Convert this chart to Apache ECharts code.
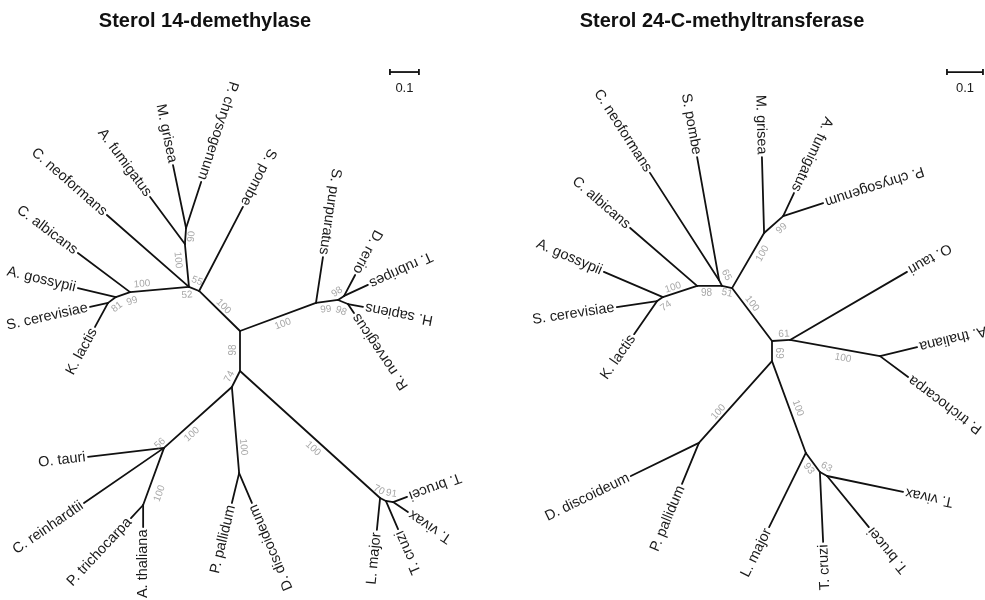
<!DOCTYPE html>
<html>
<head>
<meta charset="utf-8">
<title>Sterol biosynthesis enzyme phylogenies</title>
<script src="https://cdn.jsdelivr.net/npm/echarts@6/dist/echarts.min.js"></script>
<style>
  html, body { margin: 0; padding: 0; background: #ffffff; }
  #chart { width: 985px; height: 600px; }
</style>
</head>
<body>
<div id="chart"></div>
<script>
// ---------------------------------------------------------------------------
// Unrooted trees. Node positions are in substitutions per site, measured from
// each tree's central node (x to the right, y upwards).
// ---------------------------------------------------------------------------

// Sterol 14-demethylase
const cyp51Internal = [
  ['c0', 0.000, 0.000], ['d', 0.000, -0.138], ['b', -0.141, 0.138],
  ['a', -0.176, 0.152], ['i', -0.190, 0.300], ['j', -0.186, 0.355],
  ['k', -0.379, 0.134], ['l', -0.428, 0.117], ['m', -0.455, 0.097],
  ['e', 0.262, 0.097], ['f', 0.338, 0.107], ['g', 0.359, 0.121],
  ['h', 0.372, 0.093], ['p', -0.028, -0.193], ['n', -0.262, -0.403],
  ['q', -0.003, -0.490], ['s', -0.334, -0.600], ['r', 0.483, -0.576],
  ['t', 0.503, -0.586], ['u', 0.528, -0.590]
];
const cyp51Edges = [
  ['c0', 'd'], ['c0', 'b'], ['c0', 'e'], ['b', 'a'], ['a', 'i'], ['a', 'k'],
  ['i', 'j'], ['k', 'l'], ['l', 'm'], ['e', 'f'], ['f', 'g'], ['f', 'h'],
  ['d', 'p'], ['d', 'r'], ['p', 'n'], ['p', 'q'], ['n', 's'], ['r', 't'],
  ['t', 'u']
];
const cyp51Tips = [
  ['C. neoformans', 'a', -0.459, 0.400],
  ['A. fumigatus', 'i', -0.310, 0.462],
  ['M. grisea', 'j', -0.231, 0.572],
  ['P. chrysogenum', 'j', -0.134, 0.514],
  ['S. pombe', 'b', 0.010, 0.428],
  ['C. albicans', 'k', -0.559, 0.269],
  ['A. gossypii', 'l', -0.559, 0.148],
  ['S. cerevisiae', 'm', -0.517, 0.083],
  ['K. lactis', 'm', -0.500, 0.014],
  ['S. purpuratus', 'e', 0.286, 0.255],
  ['D. rerio', 'g', 0.397, 0.193],
  ['T. rubripes', 'g', 0.441, 0.159],
  ['H. sapiens', 'h', 0.424, 0.083],
  ['R. norvegicus', 'h', 0.393, 0.062],
  ['O. tauri', 'n', -0.524, -0.434],
  ['C. reinhardtii', 'n', -0.538, -0.593],
  ['P. trichocarpa', 's', -0.376, -0.645],
  ['A. thaliana', 's', -0.334, -0.676],
  ['P. pallidum', 'q', -0.028, -0.593],
  ['D. discoideum', 'q', 0.041, -0.593],
  ['L. major', 'r', 0.472, -0.686],
  ['T. cruzi', 't', 0.545, -0.683],
  ['T. brucei', 'u', 0.576, -0.572],
  ['T. vivax', 'u', 0.579, -0.624]
];
// bootstrap support: branch (from, to) and value
const cyp51Support = [
  ['c0', 'b', 100], ['b', 'a', 55], ['a', 'k', 100], ['a', 'k', 52],
  ['k', 'l', 99], ['l', 'm', 81], ['a', 'i', 100], ['i', 'j', 90],
  ['c0', 'd', 98], ['d', 'p', 74], ['p', 'n', 100], ['p', 'n', 56],
  ['n', 's', 100], ['p', 'q', 100], ['d', 'r', 100], ['r', 't', 70],
  ['t', 'u', 91], ['c0', 'e', 100], ['e', 'f', 99], ['f', 'g', 98],
  ['f', 'h', 98]
];

// Sterol 24-C-methyltransferase
const smtInternal = [
  ['c0', 0.000, 0.000], ['a', -0.111, 0.147], ['b', -0.139, 0.153],
  ['b2', -0.147, 0.169], ['k', -0.208, 0.153], ['l', -0.303, 0.122],
  ['m', -0.319, 0.111], ['i', -0.022, 0.300], ['j', 0.031, 0.347],
  ['g', 0.050, 0.003], ['s', 0.300, -0.042], ['h', 0.000, -0.056],
  ['q', -0.203, -0.283], ['r', 0.094, -0.311], ['t', 0.133, -0.364],
  ['u', 0.153, -0.375]
];
const smtEdges = [
  ['c0', 'a'], ['c0', 'g'], ['c0', 'h'], ['a', 'b'], ['a', 'i'], ['b', 'b2'],
  ['b', 'k'], ['k', 'l'], ['l', 'm'], ['i', 'j'], ['g', 's'], ['h', 'q'],
  ['h', 'r'], ['r', 't'], ['t', 'u']
];
const smtTips = [
  ['C. neoformans', 'b2', -0.339, 0.467],
  ['S. pombe', 'b2', -0.208, 0.511],
  ['C. albicans', 'k', -0.394, 0.314],
  ['A. gossypii', 'l', -0.467, 0.192],
  ['S. cerevisiae', 'm', -0.431, 0.094],
  ['K. lactis', 'm', -0.383, 0.019],
  ['M. grisea', 'i', -0.028, 0.511],
  ['A. fumigatus', 'j', 0.061, 0.411],
  ['P. chrysogenum', 'j', 0.142, 0.383],
  ['O. tauri', 'g', 0.375, 0.192],
  ['A. thaliana', 's', 0.403, -0.017],
  ['P. trichocarpa', 's', 0.378, -0.100],
  ['D. discoideum', 'q', -0.392, -0.375],
  ['P. pallidum', 'q', -0.250, -0.397],
  ['L. major', 'r', -0.008, -0.517],
  ['T. cruzi', 't', 0.142, -0.558],
  ['T. vivax', 'u', 0.364, -0.419],
  ['T. brucei', 'u', 0.269, -0.517]
];
const smtSupport = [
  ['a', 'i', 100], ['i', 'j', 99], ['a', 'c0', 100], ['b', 'b2', 65],
  ['b', 'a', 51], ['k', 'b', 98], ['l', 'k', 100], ['l', 'm', 74],
  ['c0', 'g', 61], ['c0', 'h', 69], ['g', 's', 100], ['h', 'r', 100],
  ['r', 't', 93], ['t', 'u', 63], ['h', 'q', 100]
];

const scaleBarLength = 0.1;

// ---------------------------------------------------------------------------
// Layout and style
// ---------------------------------------------------------------------------
const FONT = '"Liberation Sans", Arial, Helvetica, sans-serif';
const LINE = '#111111';
const LINE_W = 1.8;
const TIP_GAP = 2.5;

// support label nudges (px) from the branch midpoint, same order as the support lists
const cyp51SupportNudge = [
  [4, -4.5], [3, -8], [-17.5, -5.5], [27.5, 5.5], [9, 6.5], [5, 7], [-9, -5.5],
  [6, 0.5], [-7, -1], [-6.5, -2.5], [-6, 17], [-38, 26], [6, 17], [8, 17],
  [3, 14], [-4, -9.5], [2, -8], [5, 7], [-1, 8], [-4, -6], [-2, 9]
];
const smtSupportNudge = [
  [14.5, -7], [8, 4], [0, -11], [6, -8], [0, 6], [-3, 7], [-7, -4], [6, 7],
  [3, -6.5], [9, 2], [8, 10], [9, 1], [-4, 6], [3, -7], [-17, 10]
];

const panels = [
  {
    title: 'Sterol 14-demethylase', titleX: 205,
    internal: cyp51Internal, edges: cyp51Edges, tips: cyp51Tips,
    support: cyp51Support, nudge: cyp51SupportNudge,
    box: { left: 0, width: 490 }, centre: [240, 331], pxPerUnit: 290,
    bar: [0.517, 0.893]
  },
  {
    title: 'Sterol 24-C-methyltransferase', titleX: 722,
    internal: smtInternal, edges: smtEdges, tips: smtTips,
    support: smtSupport, nudge: smtSupportNudge,
    box: { left: 490, width: 495 }, centre: [772, 341], pxPerUnit: 360,
    bar: [0.486, 0.747]
  }
];
const H = 600;

// ---------------------------------------------------------------------------
function lineRender(params, api) {
  const p = api.coord([api.value(0), api.value(1)]);
  const c = api.coord([api.value(2), api.value(3)]);
  return {
    type: 'line',
    shape: { x1: p[0], y1: p[1], x2: c[0], y2: c[1] },
    style: { stroke: LINE, lineWidth: LINE_W, lineCap: 'round' }
  };
}

function tipRender(names) {
  return function (params, api) {
    const tip = api.coord([api.value(0), api.value(1)]);
    const par = api.coord([api.value(2), api.value(3)]);
    const dx = tip[0] - par[0], dy = tip[1] - par[1];
    const len = Math.hypot(dx, dy) || 1;
    const theta = Math.atan2(-dy, dx);
    return {
      type: 'text',
      x: tip[0] + dx / len * TIP_GAP,
      y: tip[1] + dy / len * TIP_GAP,
      rotation: theta + Math.PI,
      style: {
        text: names[params.dataIndex], fill: '#1a1a1a',
        font: '14.5px ' + FONT,
        align: 'right', verticalAlign: 'middle',
        textAlign: 'right', textVerticalAlign: 'middle'
      }
    };
  };
}

function supportRender(values, nudge) {
  return function (params, api) {
    const a = api.coord([api.value(0), api.value(1)]);
    const b = api.coord([api.value(2), api.value(3)]);
    let theta = Math.atan2(-(b[1] - a[1]), b[0] - a[0]);
    if (theta > Math.PI / 2 + 1e-9) theta -= Math.PI;
    if (theta <= -Math.PI / 2 + 1e-9) theta += Math.PI;
    const off = nudge[params.dataIndex] || [0, 0];
    return {
      type: 'text',
      x: (a[0] + b[0]) / 2 + off[0],
      y: (a[1] + b[1]) / 2 + off[1],
      rotation: theta,
      style: {
        text: String(values[params.dataIndex]), fill: '#a8a8a8',
        font: '10px ' + FONT,
        align: 'center', verticalAlign: 'middle',
        textAlign: 'center', textVerticalAlign: 'middle'
      }
    };
  };
}

function barRender(params, api) {
  const s = api.coord([api.value(0), api.value(1)]);
  const e = api.coord([api.value(2), api.value(3)]);
  const st = { stroke: LINE, lineWidth: LINE_W };
  return {
    type: 'group',
    children: [
      { type: 'line', shape: { x1: s[0], y1: s[1], x2: e[0], y2: e[1] }, style: st },
      { type: 'line', shape: { x1: s[0], y1: s[1] - 3, x2: s[0], y2: s[1] + 3 }, style: st },
      { type: 'line', shape: { x1: e[0], y1: e[1] - 3, x2: e[0], y2: e[1] + 3 }, style: st },
      {
        type: 'text', x: (s[0] + e[0]) / 2, y: s[1] + 10,
        style: {
          text: String(scaleBarLength), fill: '#1a1a1a', font: '13px ' + FONT,
          align: 'center', verticalAlign: 'top',
          textAlign: 'center', textVerticalAlign: 'top'
        }
      }
    ]
  };
}

const grids = [], xAxes = [], yAxes = [], series = [], titles = [];

panels.forEach(function (pn, idx) {
  const pos = {};
  pn.internal.forEach(function (n) { pos[n[0]] = [n[1], n[2]]; });

  const k = pn.pxPerUnit;
  grids.push({ left: pn.box.left, width: pn.box.width, top: 0, height: H, containLabel: false });
  xAxes.push({
    type: 'value', gridIndex: idx, show: false,
    min: -(pn.centre[0] - pn.box.left) / k,
    max: (pn.box.left + pn.box.width - pn.centre[0]) / k
  });
  yAxes.push({
    type: 'value', gridIndex: idx, show: false,
    min: -(H - pn.centre[1]) / k,
    max: pn.centre[1] / k
  });

  const branchData = pn.edges.map(function (e) {
    return [pos[e[0]][0], pos[e[0]][1], pos[e[1]][0], pos[e[1]][1]];
  }).concat(pn.tips.map(function (t) {
    return [pos[t[1]][0], pos[t[1]][1], t[2], t[3]];
  }));

  const common = {
    type: 'custom', xAxisIndex: idx, yAxisIndex: idx, silent: true,
    clip: false, animation: false, encode: { x: [0, 2], y: [1, 3] }
  };

  series.push(Object.assign({}, common, {
    name: pn.title + ' branches', z: 2,
    data: branchData, renderItem: lineRender
  }));
  series.push(Object.assign({}, common, {
    name: pn.title + ' taxa', z: 3,
    data: pn.tips.map(function (t) { return [t[2], t[3], pos[t[1]][0], pos[t[1]][1]]; }),
    renderItem: tipRender(pn.tips.map(function (t) { return t[0]; }))
  }));
  series.push(Object.assign({}, common, {
    name: pn.title + ' support', z: 3,
    data: pn.support.map(function (s) {
      return [pos[s[0]][0], pos[s[0]][1], pos[s[1]][0], pos[s[1]][1]];
    }),
    renderItem: supportRender(pn.support.map(function (s) { return s[2]; }), pn.nudge)
  }));
  series.push(Object.assign({}, common, {
    name: pn.title + ' scale', z: 3,
    data: [[pn.bar[0], pn.bar[1], pn.bar[0] + scaleBarLength, pn.bar[1]]],
    renderItem: barRender
  }));

  titles.push({
    text: pn.title, left: pn.titleX, top: 11, textAlign: 'center', padding: 0,
    textStyle: { fontFamily: FONT, fontSize: 20, fontWeight: 'bold', color: '#111' }
  });
});

const chart = echarts.init(document.getElementById('chart'), null, { renderer: 'canvas' });
chart.setOption({
  backgroundColor: '#ffffff',
  animation: false,
  title: titles,
  grid: grids,
  xAxis: xAxes,
  yAxis: yAxes,
  series: series
});
</script>
</body>
</html>
